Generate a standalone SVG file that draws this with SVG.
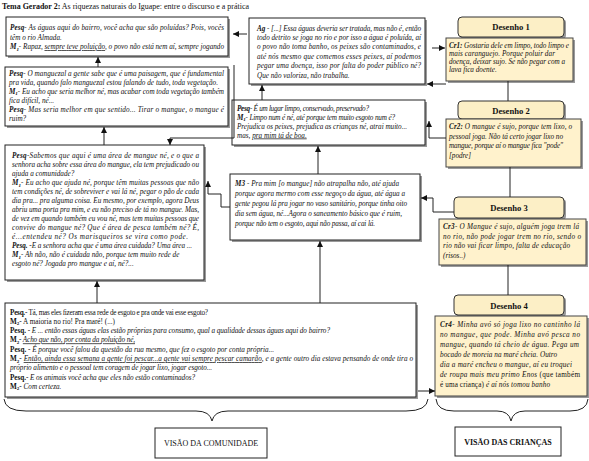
<svg xmlns="http://www.w3.org/2000/svg" width="589" height="461" viewBox="0 0 589 461">
<style>
.box{fill:#fff;stroke:#222;stroke-width:1}
.sh{fill:#9a9a9a}
.hdr{fill:#fcefc6;stroke:#333;stroke-width:1}
.bod{fill:#fff2cc;stroke:#444;stroke-width:1}
.t{font-family:"Liberation Serif","Times New Roman",serif;font-size:7.2px;font-style:italic;fill:#111}
.b{font-weight:bold}
.n{font-style:normal}
.u{text-decoration:underline}
.s{font-size:5px}
.h{font-family:"Liberation Serif","Times New Roman",serif;font-size:8.6px;font-weight:bold;fill:#111;text-anchor:middle}
.v{font-family:"Liberation Serif","Times New Roman",serif;font-size:8px;fill:#111;text-anchor:middle}
.c{stroke:#222;stroke-width:1;fill:none}
</style>
<defs>
<marker id="ah" viewBox="0 0 6 6" refX="6" refY="3" markerWidth="6" markerHeight="6" orient="auto" markerUnits="userSpaceOnUse"><path d="M0,0L6,3L0,6z" fill="#111"/></marker>
</defs>
<rect width="589" height="461" fill="#fff"/>
<text x="2" y="9" font-family="Liberation Serif,serif" font-size="7.8" fill="#111" textLength="247" lengthAdjust="spacingAndGlyphs"><tspan font-weight="bold">Tema Gerador 2:</tspan> As riquezas naturais do Iguape: entre o discurso e a prática</text>

<g id="box1">
<rect class="sh" x="8" y="19" width="222" height="39"/>
<rect class="box" x="6" y="17" width="222" height="39"/>
<text class="t" x="10" y="30" textLength="214" lengthAdjust="spacing"><tspan class="b">Pesq-</tspan> As águas aqui do bairro, você acha que são poluídas? Pois, vocês</text>
<text class="t" x="10" y="39.5">têm o rio Almada.</text>
<text class="t" x="10" y="49" textLength="214" lengthAdjust="spacing"><tspan class="b">M<tspan class="s" dy="1.5">1</tspan><tspan dy="-1.5">-</tspan></tspan> Rapaz, <tspan class="u">sempre teve poluição</tspan>, o povo não está nem aí, sempre jogando</text>
</g>

<g id="box2">
<rect class="sh" x="7" y="69" width="223" height="59"/>
<rect class="box" x="5" y="67" width="223" height="59"/>
<text class="t" x="9" y="75.5" textLength="215" lengthAdjust="spacing"><tspan class="b">Pesq-</tspan> O manguezal a gente sabe que é uma paisagem, que é fundamental</text>
<text class="t" x="9" y="84.6" textLength="209" lengthAdjust="spacing">pra vida, quando falo manguezal estou falando de tudo, toda vegetação.</text>
<text class="t" x="9" y="93.7" textLength="215" lengthAdjust="spacing"><tspan class="b">M<tspan class="s" dy="1.5">1</tspan><tspan dy="-1.5">-</tspan></tspan> Eu acho que seria melhor né, mas acabar com toda vegetação também</text>
<text class="t" x="9" y="102.8">fica difícil, né...</text>
<text class="t" x="9" y="111.9" textLength="215" lengthAdjust="spacing"><tspan class="b">Pesq-</tspan> Mas seria melhor em que sentido... Tirar o mangue, o mangue é</text>
<text class="t" x="9" y="121">ruim?</text>
</g>

<g id="box3">
<rect class="sh" x="7" y="147" width="199" height="135"/>
<rect class="box" x="5" y="145" width="199" height="135"/>
<text class="t" x="12" y="158" textLength="187" lengthAdjust="spacing"><tspan class="b">Pesq-</tspan>Sabemos que aqui é uma área de mangue né, e o que a</text>
<text class="t" x="12" y="167" textLength="187" lengthAdjust="spacing">senhora acha sobre essa área do mangue, ela tem prejudicado ou</text>
<text class="t" x="12" y="176">ajuda a comunidade?</text>
<text class="t" x="12" y="185" textLength="187" lengthAdjust="spacing"><tspan class="b">M<tspan class="s" dy="1.5">1</tspan><tspan dy="-1.5">-</tspan></tspan> Eu acho que ajuda né, porque têm muitas pessoas que não</text>
<text class="t" x="12" y="194" textLength="187" lengthAdjust="spacing">tem condições né, de sobreviver e vai lá né, pegar o pão de cada</text>
<text class="t" x="12" y="203" textLength="187" lengthAdjust="spacing">dia pra... pra alguma coisa. Eu mesmo, por exemplo, agora Deus</text>
<text class="t" x="12" y="212" textLength="187" lengthAdjust="spacing">abriu uma porta pra mim, e eu não preciso de tá no mangue. Mas,</text>
<text class="t" x="12" y="221" textLength="187" lengthAdjust="spacing">de vez em quando também eu vou né, mas tem muitas pessoas que</text>
<text class="t" x="12" y="230" textLength="187" lengthAdjust="spacing">convive do mangue né? Que é área de pesca também né? É,</text>
<text class="t" x="12" y="239" textLength="176" lengthAdjust="spacing">é...entendeu né?  Os marisqueiros se vira como pode.</text>
<text class="t" x="12" y="248" textLength="180" lengthAdjust="spacing"><tspan class="b">Pesq.</tspan> -E a senhora acha que é uma área cuidada? Uma área ...</text>
<text class="t" x="12" y="257"><tspan class="b">M<tspan class="s" dy="1.5">1</tspan><tspan dy="-1.5">-</tspan></tspan> Ah não, não é cuidada não, porque tem muito rede de</text>
<text class="t" x="12" y="266">esgoto né? Jogada pro mangue e aí, né?...</text>
</g>

<g id="ag">
<rect class="sh" x="251" y="20" width="176" height="66"/>
<rect class="box" x="249" y="18" width="176" height="66"/>
<text class="t" x="257" y="30.5" textLength="164" lengthAdjust="spacing"><tspan class="b">Ag -</tspan> [...] Essa águas deveria ser tratada, mas não é, então</text>
<text class="t" x="257" y="39.9" textLength="164" lengthAdjust="spacing">todo detrito se joga no rio e por isso a água é poluída, aí</text>
<text class="t" x="257" y="49.3" textLength="164" lengthAdjust="spacing">o povo não toma banho, os peixes são contaminados, e</text>
<text class="t" x="257" y="58.7" textLength="164" lengthAdjust="spacing">até nós mesmo que comemos esses peixes, aí podemos</text>
<text class="t" x="257" y="68.1" textLength="164" lengthAdjust="spacing">pegar uma doença, isso por falta do poder público né?</text>
<text class="t" x="257" y="77.5">Que não valoriza, não trabalha.</text>
</g>

<g id="lugar">
<rect class="sh" x="234" y="102" width="193" height="45"/>
<rect class="box" x="232" y="100" width="193" height="45"/>
<text class="t" x="237" y="110.5" textLength="132" lengthAdjust="spacing"><tspan class="b">Pesq-</tspan> É um lugar limpo, conservado, preservado?</text>
<text class="t" x="237" y="119.5" textLength="158" lengthAdjust="spacing"><tspan class="b">M<tspan class="s" dy="1.5">1</tspan><tspan dy="-1.5">-</tspan></tspan> Limpo num é né, até porque tem muito esgoto num é?</text>
<text class="t" x="237" y="128.5" textLength="170" lengthAdjust="spacing">Prejudica os peixes, prejudica as crianças né, atrai muito...</text>
<text class="t" x="237" y="137.5">mas, <tspan class="u">pra mim tá de boa.</tspan></text>
</g>

<g id="m3">
<rect class="sh" x="232" y="176" width="190" height="66"/>
<rect class="box" x="230" y="174" width="190" height="66"/>
<text class="t" x="235" y="185.5" textLength="164" lengthAdjust="spacing"><tspan class="b">M3 -</tspan> Pra mim [o mangue] não atrapalha não, até ajuda</text>
<text class="t" x="235" y="195.5" textLength="170" lengthAdjust="spacing">porque agora mermo com esse negoço da água, até água a</text>
<text class="t" x="235" y="205.5" textLength="172" lengthAdjust="spacing">gente pegou lá pra jogar no vaso sanitário, porque tinha oito</text>
<text class="t" x="235" y="215.5" textLength="167" lengthAdjust="spacing">dia sem água, né...Agora o saneamento básico que é ruim,</text>
<text class="t" x="235" y="225.5" textLength="140" lengthAdjust="spacing">porque não tem o esgoto, aqui não passa, aí cai lá.</text>
</g>

<g id="bottom">
<rect class="sh" x="7" y="305" width="411" height="94"/>
<rect class="box" x="5" y="303" width="411" height="94"/>
<text class="t" x="10" y="314.5" textLength="198" lengthAdjust="spacing"><tspan class="b n">Pesq.</tspan><tspan class="n">- Tá, mas eles fizeram essa rede de esgoto e pra onde vai esse esgoto?</tspan></text>
<text class="t" x="10" y="323.8" textLength="105" lengthAdjust="spacing"><tspan class="b n">M<tspan class="s" dy="1.5">2</tspan></tspan><tspan class="n" dy="-1.5">- A maioria no rio! Pra maré! (...)</tspan></text>
<text class="t" x="10" y="333.1" textLength="320" lengthAdjust="spacing"><tspan class="b n">Pesq.</tspan> - E ... então essas águas elas estão próprias para consumo, qual a qualidade dessas águas aqui do bairro?</text>
<text class="t" x="10" y="342.4" textLength="125" lengthAdjust="spacing"><tspan class="b n">M<tspan class="s" dy="1.5">2</tspan></tspan><tspan dy="-1.5">- </tspan><tspan class="u">Acho que não, por conta da poluição né,</tspan></text>
<text class="t" x="10" y="351.7"><tspan class="b n">Pesq.</tspan> - É porque você falou da questão da rua mesmo, que fez o esgoto por conta própria...</text>
<text class="t" x="10" y="361" textLength="403" lengthAdjust="spacing"><tspan class="b n">M<tspan class="s" dy="1.5">2</tspan></tspan><tspan dy="-1.5">- </tspan><tspan class="u">Então, ainda essa semana a gente foi pescar...a gente vai sempre pescar camarão</tspan>, e a gente outro dia estava pensando de onde tira o</text>
<text class="t" x="10" y="370.3" textLength="202" lengthAdjust="spacing">próprio alimento e o pessoal tem coragem de jogar lixo, jogar esgoto...</text>
<text class="t" x="10" y="379.6" textLength="185" lengthAdjust="spacing"><tspan class="b n">Pesq.</tspan>- E os animais você acha que eles não estão contaminados?</text>
<text class="t" x="10" y="388.9"><tspan class="b n">M<tspan class="s" dy="1.5">2</tspan></tspan><tspan dy="-1.5">- Com certeza.</tspan></text>
</g>

<g id="desenho1">
<rect class="sh" x="460" y="19" width="106" height="20" rx="4"/>
<rect class="hdr" x="458" y="17" width="106" height="20" rx="4"/>
<text class="h" x="511" y="30">Desenho 1</text>
<rect class="sh" x="448" y="40" width="127" height="43"/>
<rect class="bod" x="446" y="38" width="127" height="43"/>
<text class="t" x="449" y="48" textLength="120" lengthAdjust="spacing"><tspan class="b">Cr1:</tspan> Gostaria dele em limpo, todo limpo e</text>
<text class="t" x="449" y="56" textLength="106" lengthAdjust="spacing">mais caranguejo. Porque poluir dar</text>
<text class="t" x="449" y="64" textLength="116" lengthAdjust="spacing">doença, deixar sujo. Se não pegar com a</text>
<text class="t" x="449" y="72">lava fica doente.</text>
</g>

<g id="desenho2">
<rect class="sh" x="460" y="103" width="106" height="18" rx="4"/>
<rect class="hdr" x="458" y="101" width="106" height="18" rx="4"/>
<text class="h" x="511" y="113.5">Desenho 2</text>
<rect class="sh" x="448" y="121" width="135" height="48"/>
<rect class="bod" x="446" y="119" width="135" height="48"/>
<text class="t" x="449" y="129" textLength="123" lengthAdjust="spacing"><tspan class="b">Cr2:</tspan>  O mangue é sujo, porque tem lixo, o</text>
<text class="t" x="449" y="138.5" textLength="114" lengthAdjust="spacing">pessoal joga. Não tá certo jogar lixo no</text>
<text class="t" x="449" y="148" textLength="114" lengthAdjust="spacing">mangue, porque aí o mangue fica "pode"</text>
<text class="t" x="449" y="157.5">[podre]</text>
</g>

<g id="desenho3">
<rect class="sh" x="456" y="199" width="110" height="21" rx="4"/>
<rect class="hdr" x="454" y="197" width="110" height="21" rx="4"/>
<text class="h" x="509" y="211">Desenho 3</text>
<rect class="sh" x="441" y="221" width="147" height="46"/>
<rect class="bod" x="439" y="219" width="147" height="46"/>
<text class="t" x="443" y="229" textLength="136" lengthAdjust="spacing"><tspan class="b">Cr3-</tspan> O Mangue é sujo, alguém joga trem lá</text>
<text class="t" x="443" y="238.5" textLength="138" lengthAdjust="spacing">no rio, não pode jogar trem no rio, sendo o</text>
<text class="t" x="443" y="248" textLength="127" lengthAdjust="spacing">rio não vai ficar limpo, falta de educação</text>
<text class="t" x="443" y="257.5">(risos..)</text>
</g>

<g id="desenho4">
<rect class="sh" x="456" y="297" width="110" height="20" rx="4"/>
<rect class="hdr" x="454" y="295" width="110" height="20" rx="4"/>
<text class="h" x="509" y="308.5">Desenho 4</text>
<rect class="sh" x="437" y="318" width="152" height="80"/>
<rect class="bod" x="435" y="316" width="152" height="80"/>
<text class="t" x="440" y="327" textLength="140" lengthAdjust="spacing"><tspan class="b">Cr4-</tspan> Minha avó só joga lixo no cantinho lá</text>
<text class="t" x="440" y="337" textLength="140" lengthAdjust="spacing">no mangue, que pode. Minha avó pesca no</text>
<text class="t" x="440" y="347" textLength="139" lengthAdjust="spacing">mangue, quando tá cheio de água. Pega um</text>
<text class="t" x="440" y="357" textLength="117" lengthAdjust="spacing">bocado de moreia na maré cheia. Outro</text>
<text class="t" x="440" y="367" textLength="132" lengthAdjust="spacing">dia a maré encheu o mangue, aí eu troquei</text>
<text class="t" x="440" y="377" textLength="140" lengthAdjust="spacing">de roupa mais meu primo Enos <tspan class="n">(que também</tspan></text>
<text class="t" x="440" y="387" textLength="110" lengthAdjust="spacing"><tspan class="n">é uma criança)</tspan> é aí nós tomou banho</text>
</g>

<g id="connectors">
<line class="c" x1="98" y1="67" x2="98" y2="57" marker-end="url(#ah)"/>
<line class="c" x1="104" y1="145" x2="104" y2="127" marker-end="url(#ah)"/>
<line class="c" x1="97" y1="303" x2="97" y2="281" marker-end="url(#ah)"/>
<line class="c" x1="247" y1="34" x2="233" y2="34" marker-end="url(#ah)"/>
<polyline class="c" points="234,65 234,138 170,138 170,145" marker-end="url(#ah)"/>
<line class="c" x1="262" y1="100" x2="262" y2="85" marker-end="url(#ah)"/>
<line class="c" x1="318" y1="174" x2="318" y2="146" marker-end="url(#ah)"/>
<line class="c" x1="320" y1="303" x2="320" y2="241" marker-end="url(#ah)"/>
<polyline class="c" points="230,207 221,207 221,194 208,194 208,181" marker-end="url(#ah)"/>
<line class="c" x1="432" y1="48" x2="445" y2="48" marker-end="url(#ah)"/>
<line class="c" x1="446" y1="84" x2="427" y2="84" marker-end="url(#ah)"/>
<polyline class="c" points="446,138 429,138 429,121" marker-end="url(#ah)"/>
<polyline class="c" points="454,212 433,212 433,198 421,198" marker-end="url(#ah)"/>
<line class="c" x1="418" y1="391" x2="435" y2="391" marker-end="url(#ah)"/>
<line class="c" x1="508" y1="81" x2="508" y2="101" stroke="#777"/>
<line class="c" x1="510" y1="167" x2="510" y2="197" stroke="#777"/>
<line class="c" x1="508" y1="265" x2="508" y2="295" stroke="#777"/>
<path class="c" d="M4,399 Q5,411 26,411 L196,411 Q210,411 212,421 Q214,411 228,411 L406,411 Q427,411 428,399"/>
<path class="c" d="M436,399 Q437,411 454,411 L497,411 Q509,411 511,421 Q513,411 525,411 L570,411 Q587,411 588,399"/>
</g>

<g id="visao-comunidade">
<rect class="box" x="155" y="428" width="112" height="30"/>
<text class="v" x="211" y="446">VISÃO DA COMUNIDADE</text>
</g>
<g id="visao-criancas">
<rect class="box" x="455" y="427" width="106" height="29"/>
<text class="v" x="508" y="445" font-weight="bold">VISÃO DAS CRIANÇAS</text>
</g>
</svg>
